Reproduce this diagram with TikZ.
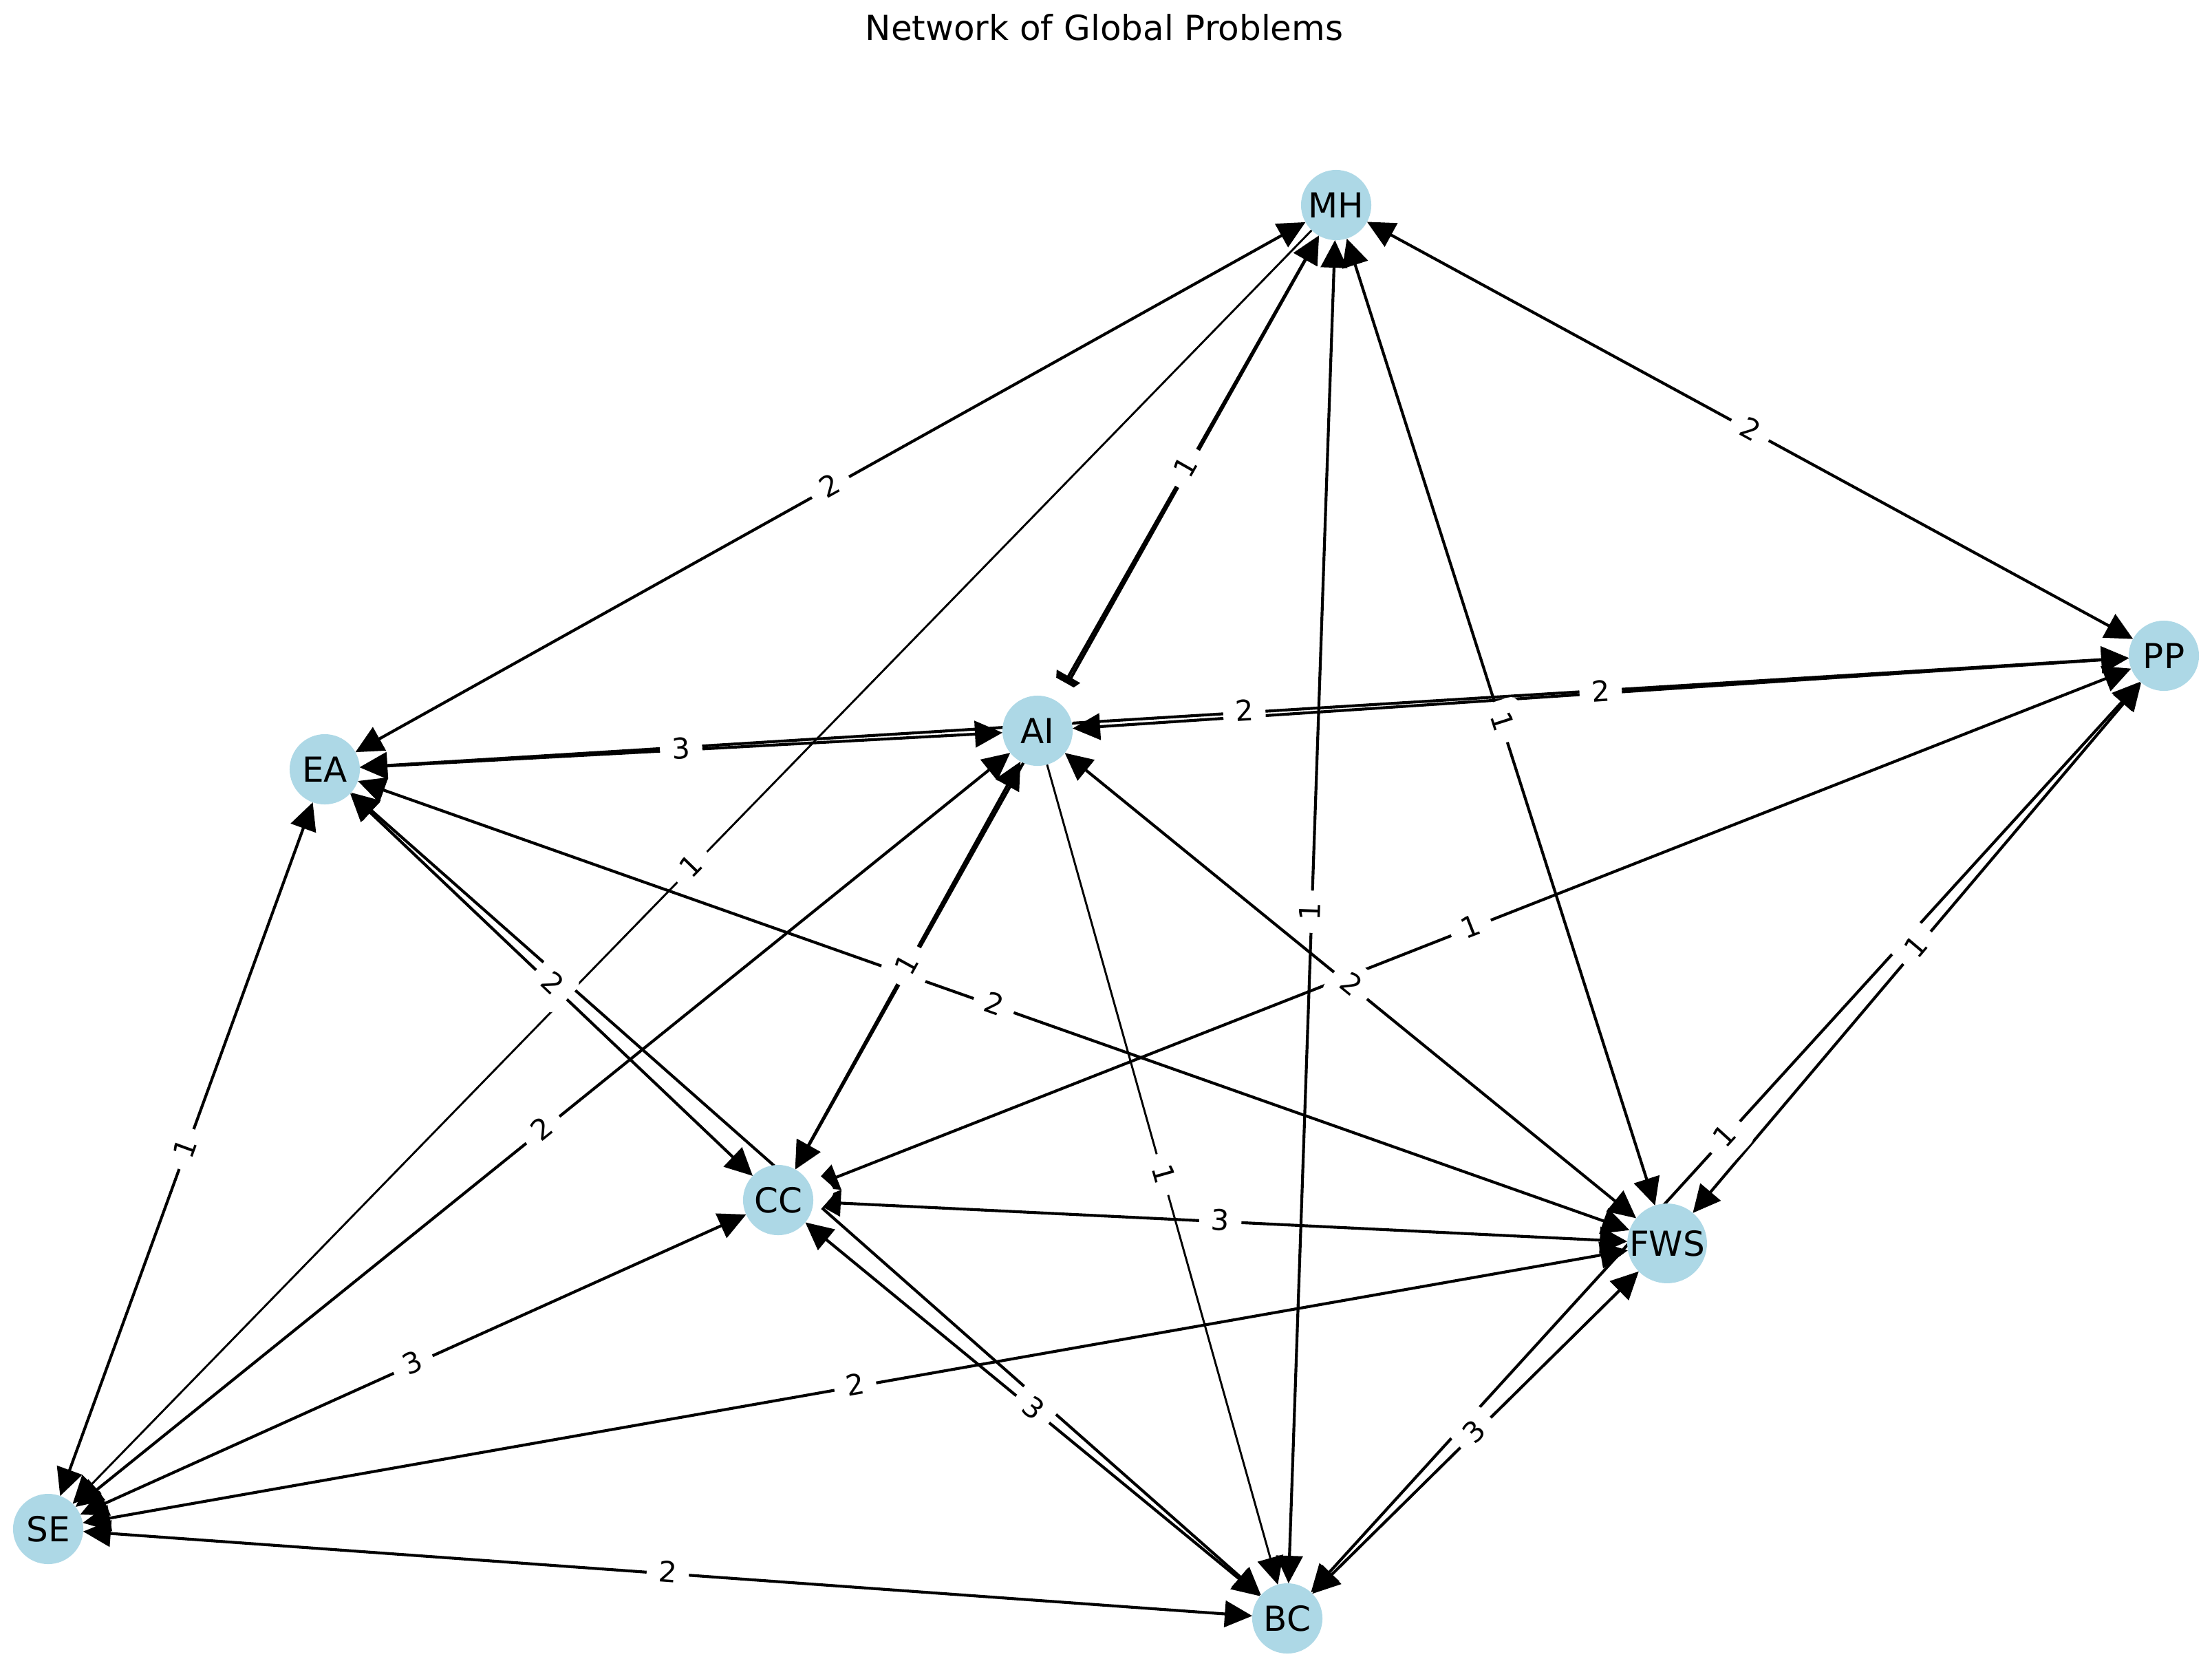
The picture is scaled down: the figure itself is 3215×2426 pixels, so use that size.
\documentclass[tikz,border=0pt]{standalone}
\usepackage{fontspec}
\setmainfont{DejaVu Sans}
\usetikzlibrary{arrows.meta}
\pgfdeclarelayer{edgelayer}
\pgfdeclarelayer{labellayer}
\pgfsetlayers{edgelayer,labellayer,main}
\definecolor{nodeblue}{HTML}{ADD8E6}
\tikzset{
  vert/.style={circle, fill=nodeblue, minimum size=24.5pt, inner sep=0pt, outer sep=0pt, font=\fontsize{12}{14}\selectfont},
  bidir/.style={{Triangle[length=9.6pt,width=9.2pt]}-{Triangle[length=9.6pt,width=9.2pt]}, line width=1pt},
  unidir/.style={-{Triangle[length=9.6pt,width=9.2pt]}, line width=0.7pt},
  elab/.style={fill=white, rounded corners=3pt, inner xsep=4.2pt, inner ysep=3pt, text height=8pt, text depth=2pt, font=\fontsize{10}{12}\selectfont, sloped, midway},
}
\begin{document}
\begin{tikzpicture}[x=0.24pt, y=-0.24pt]
\begin{pgfonlayer}{edgelayer}
\fill[white] (0,0) rectangle (3215,2426);
\end{pgfonlayer}
\useasboundingbox (0,0) rectangle (3215,2426);

\node[font=\fontsize{12}{14}\selectfont] (title) at (1605,40) {Network of Global Problems};

\node[vert] (MH)  at (1942,298)  {MH};
\node[vert] (PP)  at (3145,953)  {PP};
\node[vert] (AI)  at (1508,1062) {AI};
\node[vert] (EA)  at (472,1118)  {EA};
\node[vert] (CC)  at (1131,1744) {CC};
\node[vert] (FWS) at (2423,1807) {FWS};
\node[vert] (SE)  at (70,2222)   {SE};
\node[vert] (BC)  at (1871,2352) {BC};

\begin{pgfonlayer}{edgelayer}
\draw[bidir] (MH) -- (EA);
\draw[unidir] (MH) -- (SE);
\draw[bidir] (MH) -- (AI);
\draw[bidir] (MH) -- (CC);
\draw[bidir] (MH) -- (BC);
\draw[bidir] (MH) -- (FWS);
\draw[bidir] (MH) -- (PP);
\draw[bidir] (EA) -- (AI);
\draw[bidir] (EA) -- (PP);
\draw[bidir] (AI) -- (PP);
\draw[bidir] (EA) -- (SE);
\draw[bidir] (EA) -- (CC);
\draw[bidir] (EA) -- (FWS);
\draw[bidir] (EA) -- (BC);
\draw[bidir] (SE) -- (AI);
\draw[bidir] (AI) -- (CC);
\draw[unidir] (AI) -- (BC);
\draw[bidir] (AI) -- (FWS);
\draw[bidir] (CC) -- (PP);
\draw[bidir] (PP) -- (FWS);
\draw[bidir] (PP) -- (BC);
\draw[bidir] (CC) -- (FWS);
\draw[bidir] (SE) -- (CC);
\draw[bidir] (SE) -- (FWS);
\draw[bidir] (CC) -- (BC);
\draw[bidir] (FWS) -- (BC);
\draw[bidir] (SE) -- (BC);
\end{pgfonlayer}

\begin{pgfonlayer}{labellayer}
\path (MH) -- (EA) node[elab] (l1) {2};
\path (MH) -- (SE) node[elab] (l2) {1};
\path (MH) -- (AI) node[elab] (l3) {1};
\path (MH) -- (CC) node[elab] (l4) {\phantom{1}};
\path (MH) -- (BC) node[elab] (l5) {1};
\path (MH) -- (FWS) node[elab] (l6) {1};
\path (MH) -- (PP) node[elab] (l7) {2};
\path (EA) -- (AI) node[elab] (l8) {3};
\path (EA) -- (PP) node[elab] (l9) {2};
\path (AI) -- (PP) node[elab] (l10) {2};
\path (EA) -- (SE) node[elab] (l11) {1};
\path (EA) -- (CC) node[elab] (l12) {2};
\path (EA) -- (FWS) node[elab] (l13) {2};
\path (EA) -- (BC) node[elab] (l14) {\phantom{1}};
\path (SE) -- (AI) node[elab] (l15) {2};
\path (AI) -- (CC) node[elab] (l16) {1};
\path (AI) -- (BC) node[elab] (l17) {1};
\path (AI) -- (FWS) node[elab] (l18) {2};
\path (CC) -- (PP) node[elab] (l19) {1};
\path (PP) -- (FWS) node[elab] (l20) {1};
\path (PP) -- (BC) node[elab] (l21) {1};
\path (CC) -- (FWS) node[elab] (l22) {3};
\path (SE) -- (CC) node[elab] (l23) {3};
\path (SE) -- (FWS) node[elab] (l24) {2};
\path (CC) -- (BC) node[elab] (l25) {3};
\path (FWS) -- (BC) node[elab] (l26) {3};
\path (SE) -- (BC) node[elab] (l27) {2};
\end{pgfonlayer}
\end{tikzpicture}
\end{document}
